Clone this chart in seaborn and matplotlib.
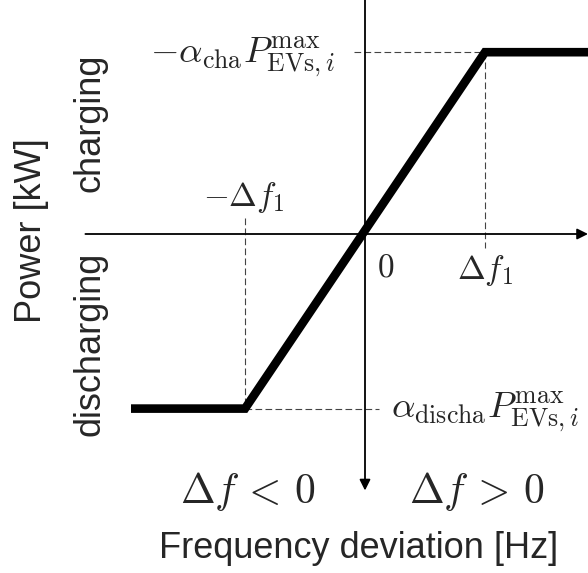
import matplotlib
matplotlib.use("Agg")
import matplotlib.pyplot as plt
import seaborn as sns
import pandas as pd

# ---- data (units: Δf in multiples of Δf1, power normalised) ----
freq = [-1.95, -1.0, 1.0, 1.9]          # frequency deviation breakpoints
power = [-0.97, -0.97, 1.01, 1.01]      # EV power response at the breakpoints
df1 = 1.0                                # Δf1
p_cha = 1.01                             # charging limit (upper plateau)
p_discha = -0.97                         # discharging limit (lower plateau)

tick_labels = [r"$-\Delta f_1$", r"$0$", r"$\Delta f_1$"]
lim_labels = [r"$-\alpha_{\rm cha}P^{\rm max}_{{\rm EVs},i}$",
              r"$\alpha_{\rm discha}P^{\rm max}_{{\rm EVs},i}$"]
region_labels = [r"$\Delta f\,<\,0$", r"$\Delta f\,>\,0$"]
xlabel = "Frequency deviation [Hz]"
ylabel = "Power [kW]"
side_labels = ["charging", "discharging"]

sns.set_theme(style="white")
plt.rcParams["font.family"] = ["Liberation Sans", "DejaVu Sans"]
plt.rcParams["mathtext.fontset"] = "cm"

W, H, DPI = 588, 573, 100
fig = plt.figure(figsize=(W / DPI, H / DPI), dpi=DPI)
ax = fig.add_axes([0, 0, 1, 1])
ax.set_axis_off()

# pixel geometry of the layout
X0, Y0, SX, SY = 365, 234, 120, 180
ax.set_xlim(-X0 / SX, (W - X0) / SX)
ax.set_ylim(-(H - Y0) / SY, Y0 / SY)

df = pd.DataFrame({"freq": freq, "power": power})
sns.lineplot(data=df, x="freq", y="power", sort=False, ax=ax, color="black",
             linewidth=6.2, solid_joinstyle="miter", solid_capstyle="butt", zorder=4)

# dashed guide lines
dkw = dict(color="#444444", linewidth=0.8, linestyle=(0, (6, 3)), zorder=2)
ax.plot([-0.09, df1], [p_cha, p_cha], **dkw)
ax.plot([df1, df1], [p_cha, -0.08], **dkw)
ax.plot([-df1, -df1], [0.09, p_discha], **dkw)
ax.plot([-df1, 0.12], [p_discha, p_discha], **dkw)

# axes with arrows
akw = dict(arrowstyle="-|>", color="black", lw=1.3, mutation_scale=16,
           shrinkA=0, shrinkB=0)
ax.annotate("", xy=((W - X0) / SX, 0), xytext=(-2.33, 0), arrowprops=akw, zorder=3)
ax.annotate("", xy=(0, -1.425), xytext=(0, Y0 / SY + 0.05), arrowprops=akw, zorder=3)

# tick labels
ax.text(-df1 * 1.01, 0.205, tick_labels[0], fontsize=24, ha="center", va="center")
ax.text(0.17, -0.19, tick_labels[1], fontsize=24, ha="center", va="center")
ax.text(df1, -0.205, tick_labels[2], fontsize=24, ha="center", va="center")

# limit labels
ax.text(-0.25, p_cha - 0.03, lim_labels[0], fontsize=26.5, ha="right", va="center")
ax.text(0.22, p_discha - 0.02, lim_labels[1], fontsize=26.5, ha="left", va="center")

# region labels
ax.text(-0.98, -1.43, region_labels[0], fontsize=30, ha="center", va="center")
ax.text(0.93, -1.43, region_labels[1], fontsize=30, ha="center", va="center")

# axis titles
ax.text(-0.05, -1.75, xlabel, fontsize=26, ha="center", va="center")
ax.text(-2.78, 0.02, ylabel, fontsize=26, ha="center", va="center", rotation=90)
ax.text(-2.29, 0.62, side_labels[0], fontsize=26, ha="center", va="center", rotation=90)
ax.text(-2.29, -0.61, side_labels[1], fontsize=26, ha="center", va="center", rotation=90)

fig.savefig("out.png", dpi=DPI)
